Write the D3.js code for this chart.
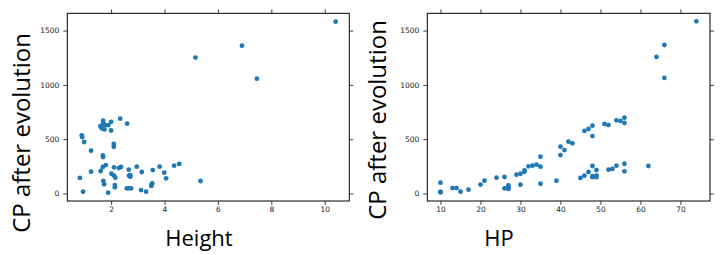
<!DOCTYPE html>
<html lang="en">
<head>
<meta charset="UTF-8">
<title>CP after evolution</title>
<script src="https://cdn.jsdelivr.net/npm/d3@7"></script>
<style>
body { margin: 0; background: #fff; }
.tick text { font-family: "DejaVu Sans", sans-serif; font-size: 7.5px; fill: #222; }
.tick line { stroke: #444; }
.lab { font-family: "Open Sans", sans-serif; fill: #000; }
</style>
</head>
<body>
<svg width="722" height="255"></svg>
<script>
// height vs CP after evolution (left panel)
var heightVals = [0.83, 0.95, 0.9, 0.92, 0.99, 1.25, 1.25, 1.69, 1.7,
    1.6, 1.7, 1.7, 1.75, 1.8, 1.9, 2.0, 2.0, 1.72, 1.65, 2.34, 2.6, 2.1, 2.1,
    1.61, 1.69, 1.8, 2.11, 2.29, 2.37, 2.01, 2.11, 2.16, 1.71, 1.74, 2.14, 2.14, 1.89,
    2.66, 2.67, 2.72, 2.72, 2.59, 2.75, 2.67, 2.96, 3.15, 3.12, 3.31, 3.51, 3.54, 3.51,
    3.56, 3.82, 3.99, 4.06, 4.36, 4.55, 5.35, 5.16, 6.9, 7.46, 10.41];
var heightCP = [143, 17, 535, 520, 474, 394, 201, 350, 335,
    620, 670, 650, 590, 630, 630, 660, 580, 637, 600, 689, 643, 456, 430,
    207, 244, 262, 241, 235, 244, 182, 164, 146, 115, 85, 78, 57, 8,
    219, 164, 155, 170, 48, 48, 48, 247, 198, 32, 17, 78, 94, 70,
    216, 247, 192, 140, 256, 272, 115, 1251, 1361, 1057, 1582];

// HP vs CP after evolution (right panel)
var hpVals = [10, 10, 10, 13, 14, 15, 17, 20, 21, 24, 26, 26, 27, 27, 27,
    29, 30, 31, 31, 30, 32, 33, 34, 35, 35, 35, 39, 40, 40, 41, 42, 43,
    46, 47, 48, 48, 51, 52, 54, 55, 56, 56, 48, 49, 47, 46, 45, 48, 49, 49, 48,
    52, 53, 54, 56, 56, 62, 64, 66, 66, 74];
var hpCP = [100, 10, 16, 50, 50, 17, 35, 82, 118, 146, 152, 48, 75, 55, 42,
    173, 182, 200, 212, 81, 250, 256, 265, 339, 247, 90, 118, 431, 354, 400, 477, 462,
    576, 594, 624, 529, 640, 631, 674, 668, 698, 649, 253, 216, 198, 164, 143, 160, 150, 165, 150,
    219, 226, 256, 274, 204, 253, 1257, 1367, 1064, 1585];

var yTicks = [0, 500, 1000, 1500];
var heightTicks = [2, 4, 6, 8, 10];
var hpTicks = [10, 20, 30, 40, 50, 60, 70];

var svg = d3.select('svg');
var top0 = 13.3, bot0 = 201;

function panel(left, right, xDom, xTicks, xs, ys, xLabel, xLabPos, yLabPos) {
    var x = d3.scaleLinear().domain(xDom).range([left, right]);
    var y = d3.scaleLinear().domain([-69, 1659]).range([bot0, top0]);
    var g = svg.append('g');

    g.append('g').attr('transform', 'translate(0,' + bot0 + ')')
        .call(d3.axisBottom(x).tickValues(xTicks).tickSize(4).tickPadding(2).tickFormat(d3.format('d')))
        .call(function(a) { a.select('.domain').remove(); });
    g.append('g').attr('transform', 'translate(0,' + top0 + ')')
        .call(d3.axisTop(x).tickValues(xTicks).tickSize(4).tickFormat(''))
        .call(function(a) { a.select('.domain').remove(); });
    g.append('g').attr('transform', 'translate(' + left + ',0)')
        .call(d3.axisLeft(y).tickValues(yTicks).tickSize(4).tickPadding(4).tickFormat(d3.format('d')))
        .call(function(a) { a.select('.domain').remove(); });
    g.append('g').attr('transform', 'translate(' + right + ',0)')
        .call(d3.axisRight(y).tickValues(yTicks).tickSize(4).tickFormat(''))
        .call(function(a) { a.select('.domain').remove(); });

    g.selectAll('circle').data(xs).enter().append('circle')
        .attr('cx', function(d) { return x(d); })
        .attr('cy', function(d, i) { return y(ys[i]); })
        .attr('r', 2.4)
        .attr('fill', '#1f77b4');

    g.append('rect')
        .attr('x', left).attr('y', top0)
        .attr('width', right - left).attr('height', bot0 - top0)
        .attr('fill', 'none').attr('stroke', '#000').attr('stroke-width', 1);

    g.append('text').attr('class', 'lab')
        .attr('x', xLabPos[0]).attr('y', xLabPos[1])
        .attr('text-anchor', 'middle').attr('font-size', 22)
        .text(xLabel);
    g.append('text').attr('class', 'lab')
        .attr('transform', 'translate(' + yLabPos[0] + ',' + yLabPos[1] + ') rotate(-90)')
        .attr('text-anchor', 'middle').attr('font-size', 24)
        .text('CP after evolution');
}

panel(67.3, 349.3, [0.36, 10.92], heightTicks, heightVals, heightCP, 'Height', [199, 246], [30, 133]);
panel(427.3, 710, [6.7, 77.4], hpTicks, hpVals, hpCP, 'HP', [499, 246], [386, 120]);
</script>
</body>
</html>
